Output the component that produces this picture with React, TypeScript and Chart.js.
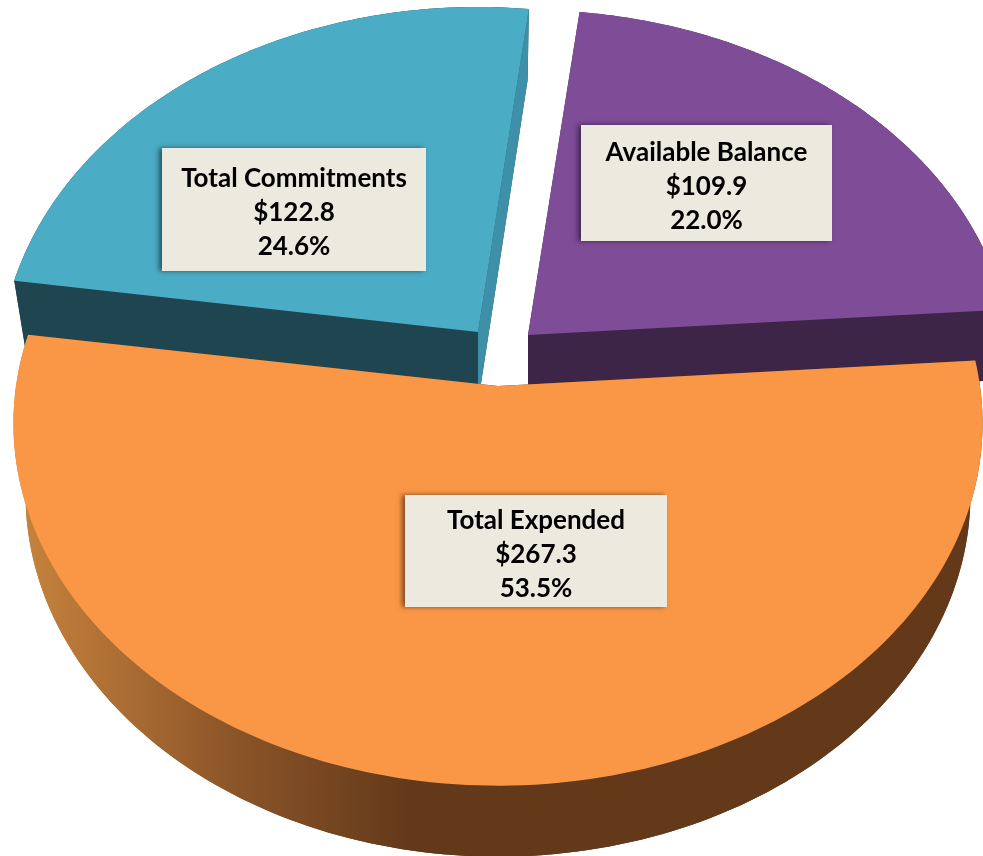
import React, { useEffect, useRef } from "react";
import { Chart, registerables } from "chart.js";

Chart.register(...registerables);

const categories = ["Available Balance", "Total Expended", "Total Commitments"];
const amounts = [109.9, 267.3, 122.8];
const amountLabels = ["$109.9", "$267.3", "$122.8"];
const percentLabels = ["22.0%", "53.5%", "24.6%"];

const topColors = ["#7f4c98", "#fa9746", "#4bacc6"];
const startWallColors = ["#3c2547", "#63391a", "#1f4650"];
const endWallColors = ["#3c2547", "#63391a", "#3e90a9"];

// Placement of each exploded slice's apex on the page, and its horizontal size factor
const apexX = [528, 498, 478];
const apexY = [335, 386, 332];
const widthFactor = [1, 1, 0.987];

const boxLeft = [581, 405, 162];
const boxTop = [125, 495, 148];
const boxWidth = [251, 262, 264];
const boxHeight = [116, 112, 123];

const ROTATION_DEG = 6.77;
const RADIUS_X = 482;
const RADIUS_Y = 358.5;
const PERSPECTIVE = 0.103;
const DEPTH = 71;
const BOTTOM_SHRINK = 0.975;
const STEPS = 160;

type Pt = [number, number];

function project(i: number, r: number, angle: number, bottom: boolean): Pt {
  const X = r * Math.cos(angle);
  const Y = r * Math.sin(angle);
  const d = 1 - PERSPECTIVE * Y;
  const shrink = bottom ? BOTTOM_SHRINK : 1;
  return [
    apexX[i] + (RADIUS_X * widthFactor[i] * shrink * X) / d,
    apexY[i] + (RADIUS_Y * Y) / d + (bottom ? DEPTH : 0),
  ];
}

function fillPoly(ctx: CanvasRenderingContext2D, pts: Pt[], fill: string | CanvasGradient) {
  ctx.beginPath();
  pts.forEach((p, n) => (n === 0 ? ctx.moveTo(p[0], p[1]) : ctx.lineTo(p[0], p[1])));
  ctx.closePath();
  ctx.fillStyle = fill;
  ctx.fill();
}

const pie3d = {
  id: "pie3d",
  beforeDatasetDraw(chart: any) {
    const ctx: CanvasRenderingContext2D = chart.ctx;
    const arcs = chart.getDatasetMeta(0).data;
    const order = [2, 0, 1];
    ctx.save();
    for (const i of order) {
      const { startAngle, endAngle } = arcs[i].getProps(["startAngle", "endAngle"], true);
      const rimTop: Pt[] = [];
      const rimBottom: Pt[] = [];
      for (let s = 0; s <= STEPS; s++) {
        const a = startAngle + ((endAngle - startAngle) * s) / STEPS;
        rimTop.push(project(i, 1, a, false));
        rimBottom.push(project(i, 1, a, true));
      }
      const apexT = project(i, 0, 0, false);
      const apexB = project(i, 0, 0, true);

      let rimFill: string | CanvasGradient = startWallColors[i];
      if (i === 1) {
        const g = ctx.createLinearGradient(30, 0, 410, 0);
        g.addColorStop(0, "#c5813c");
        g.addColorStop(0.55, "#8a5428");
        g.addColorStop(1, "#63391a");
        rimFill = g;
      }
      // rim wall and underside
      fillPoly(ctx, [apexB, ...rimBottom], rimFill);
      fillPoly(ctx, [...rimTop, ...rimBottom.slice().reverse()], rimFill);
      // radial walls
      fillPoly(ctx, [apexT, rimTop[STEPS], rimBottom[STEPS], apexB], endWallColors[i]);
      fillPoly(ctx, [apexT, rimTop[0], rimBottom[0], apexB], startWallColors[i]);
      // top face
      fillPoly(ctx, [apexT, ...rimTop], topColors[i]);
    }
    ctx.restore();
    return false;
  },
};

export default function App() {
  const ref = useRef<HTMLCanvasElement>(null);
  useEffect(() => {
    document.body.style.margin = "0";
    document.body.style.background = "#ffffff";
    const chart = new Chart(ref.current as HTMLCanvasElement, {
      type: "pie",
      data: {
        labels: categories,
        datasets: [{ data: amounts, backgroundColor: topColors, borderWidth: 0 }],
      },
      options: {
        animation: false,
        responsive: false,
        rotation: ROTATION_DEG,
        plugins: { legend: { display: false }, tooltip: { enabled: false } },
      },
      plugins: [pie3d],
    } as any);
    return () => chart.destroy();
  }, []);

  return (
    <div style={{ position: "relative", width: 983, height: 856, overflow: "hidden" }}>
      <canvas ref={ref} width={983} height={856} style={{ display: "block" }} />
      {categories.map((name, i) => (
        <div
          key={name}
          style={{
            position: "absolute",
            left: boxLeft[i],
            top: boxTop[i],
            width: boxWidth[i],
            height: boxHeight[i],
            boxSizing: "border-box",
            paddingTop: 3,
            background: "#ece9df",
            boxShadow: "-3px 0px 5px rgba(0,0,0,0.5)",
            display: "flex",
            flexDirection: "column",
            justifyContent: "center",
            alignItems: "center",
            fontFamily: "Lato, sans-serif",
            fontWeight: 700,
            fontSize: 26,
            lineHeight: "34px",
            color: "#000000",
            whiteSpace: "nowrap",
          }}
        >
          <div>{name}</div>
          <div>{amountLabels[i]}</div>
          <div>{percentLabels[i]}</div>
        </div>
      ))}
    </div>
  );
}
